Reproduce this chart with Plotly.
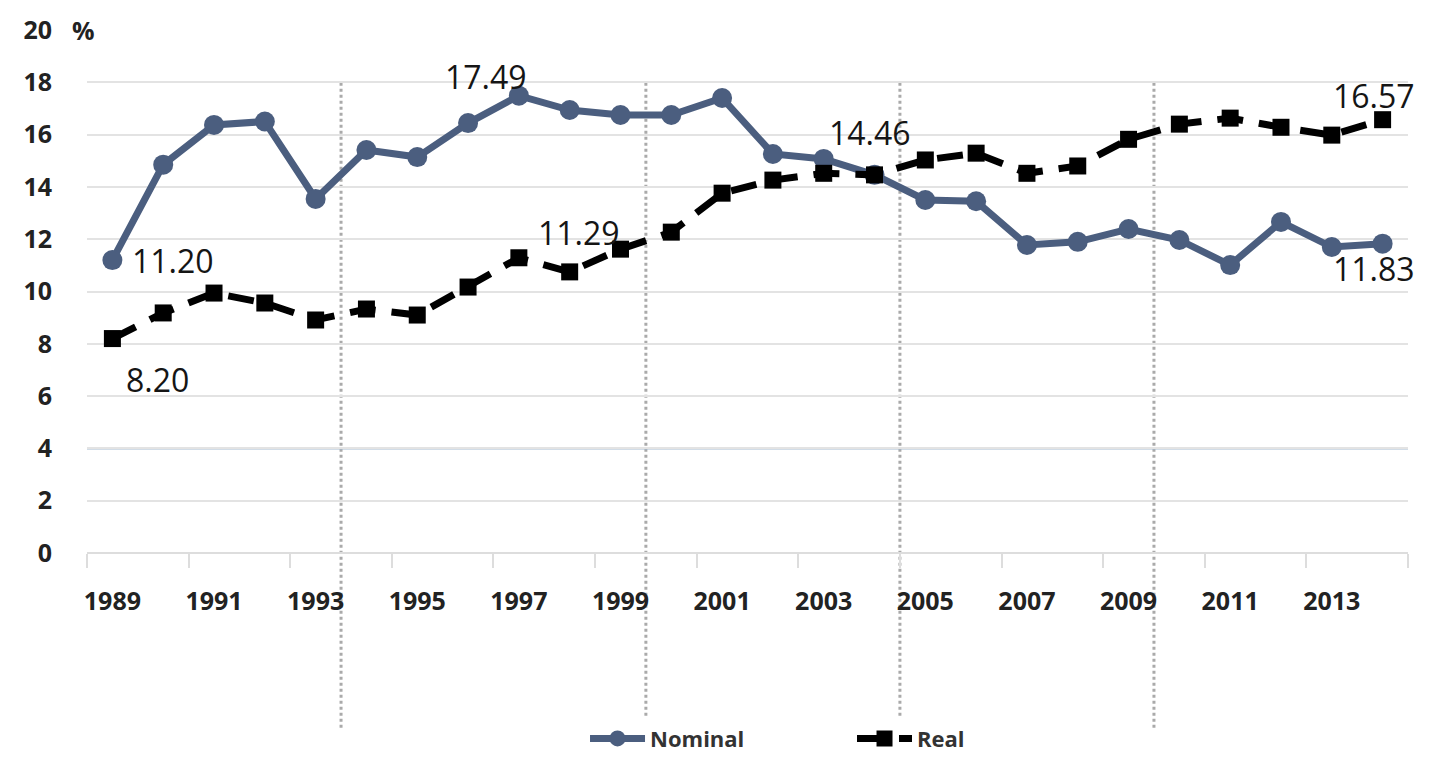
import plotly.graph_objects as go

years = list(range(1989, 2015))
nominal = [11.20, 14.85, 16.37, 16.50, 13.54, 15.41, 15.14, 16.44, 17.49, 16.94,
           16.75, 16.75, 17.40, 15.26, 15.07, 14.46, 13.50, 13.45, 11.78, 11.90,
           12.39, 11.97, 11.01, 12.66, 11.70, 11.83]
real = [8.20, 9.18, 9.94, 9.56, 8.91, 9.33, 9.10, 10.17, 11.29, 10.75,
        11.62, 12.27, 13.76, 14.26, 14.52, 14.46, 15.03, 15.29, 14.52, 14.80,
        15.82, 16.40, 16.63, 16.28, 15.98, 16.57]
tick_years = list(range(1989, 2014, 2))
tick_labels = [str(y) for y in tick_years]
y_ticks = list(range(0, 21, 2))
period_breaks = [1993.5, 1999.5, 2004.5, 2009.5]

# (series, year index, text, xanchor, xshift, yshift)
labels = [
    ("nominal", 0, "11.20", "left", 18, 0),
    ("real", 0, "8.20", "left", 12, -41),
    ("nominal", 8, "17.49", "right", 10, 19),
    ("real", 8, "11.29", "left", 17, 25),
    ("real", 15, "14.46", "center", -5, 42),
    ("real", 25, "16.57", "center", -9, 24),
    ("nominal", 25, "11.83", "center", -9, -25),
]

NAVY = "#4b5e7f"
fig = go.Figure()
fig.add_trace(go.Scatter(
    x=years, y=nominal, name="Nominal", mode="lines+markers",
    line=dict(color=NAVY, width=7),
    marker=dict(symbol="circle", size=20, color=NAVY),
))
fig.add_trace(go.Scatter(
    x=years, y=real, name="Real", mode="lines+markers",
    line=dict(color="black", width=7, dash="26px,16px"),
    marker=dict(symbol="square", size=17, color="black"),
))

series = {"nominal": nominal, "real": real}
for s, i, t, xa, xs, ys in labels:
    fig.add_annotation(x=years[i], y=series[s][i], text=t, showarrow=False,
                       xanchor=xa, yanchor="middle", xshift=xs, yshift=ys,
                       font=dict(family="Open Sans", size=32, color="#151515"))

for xb in period_breaks:
    fig.add_shape(type="line", xref="x", yref="paper", x0=xb, x1=xb,
                  y0=0.899, y1=-0.338,
                  line=dict(color="#aaaaaa", width=3, dash="dot"), layer="below")

fig.add_shape(type="line", xref="paper", yref="y", x0=0, x1=1, y0=4, y1=4,
              line=dict(color="#a3b9cf", width=2), layer="between")

fig.add_annotation(xref="paper", yref="y", x=0, y=20, text="%", showarrow=False,
                   xanchor="left", yanchor="middle", xshift=-17,
                   font=dict(family="Open Sans", size=25, color="#222", weight="bold"))

fig.update_layout(
    width=1414, height=751,
    margin=dict(l=79, r=14, t=22, b=206, autoexpand=False),
    plot_bgcolor="white", paper_bgcolor="white",
    showlegend=True,
    legend=dict(orientation="h", x=0.377, y=-0.355, xanchor="left", yanchor="middle",
                font=dict(family="Open Sans", size=22, color="#333", weight="bold"),
                itemwidth=55, tracegroupgap=0, entrywidth=197, borderwidth=0),
)
fig.update_xaxes(
    range=[1988.5, 2014.5], tickmode="array", tickvals=tick_years, ticktext=tick_labels,
    showgrid=False, zeroline=False, showline=False, ticks="", automargin=False,
    ticklabelstandoff=31,
    tickfont=dict(family="Open Sans", size=25, color="#222", weight="bold"),
    minor=dict(ticks="outside", tick0=1988.5, dtick=2, ticklen=14, tickcolor="#dddddd",
               tickwidth=2, showgrid=False),
)
fig.update_yaxes(
    range=[0, 20], tickmode="array", tickvals=y_ticks, automargin=False,
    showgrid=True, gridcolor="#e3e3e3", gridwidth=2, zeroline=True,
    zerolinecolor="#dddddd", zerolinewidth=2, showline=False, ticks="",
    ticklabelstandoff=34,
    tickfont=dict(family="Open Sans", size=25, color="#222", weight="bold"),
)

fig.write_html("out.html")
